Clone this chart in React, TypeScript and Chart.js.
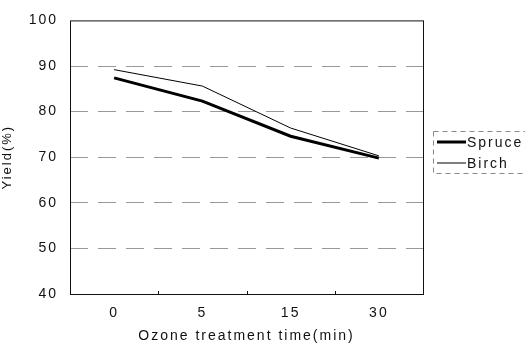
import React, { useEffect, useRef } from "react";
import { Chart, registerables } from "chart.js";

Chart.register(...registerables);

const categories = ["0", "5", "15", "30"];
const spruce = [87.4, 82.3, 74.6, 69.8];
const birch = [89.2, 85.6, 76.4, 70.3];
const yTicks = [40, 50, 60, 70, 80, 90, 100];

const FONT = "'Liberation Sans', Arial, sans-serif";

const spacingPlugin = {
  id: "spacing",
  beforeLayout(chart: any) { chart.ctx.letterSpacing = "2px"; },
  beforeDraw(chart: any) { chart.ctx.letterSpacing = "2px"; },
};

const framePlugin = {
  id: "frame",
  afterDatasetsDraw(chart: any) {
    const { ctx, chartArea: a } = chart;
    ctx.save();
    ctx.strokeStyle = "#111";
    ctx.lineWidth = 1;
    ctx.setLineDash([]);
    ctx.strokeRect(a.left + 0.5, a.top + 0.5, a.right - a.left, a.bottom - a.top);
    const xs = chart.scales.x;
    for (let i = 1; i < categories.length; i++) {
      const x = Math.round((xs.getPixelForTick(i - 1) + xs.getPixelForTick(i)) / 2) + 0.5;
      ctx.beginPath();
      ctx.moveTo(x, a.bottom);
      ctx.lineTo(x, a.bottom - 3);
      ctx.stroke();
    }
    // legend
    const lx = 433, ly = 131, lw = 100, lh = 42;
    ctx.strokeStyle = "#888";
    ctx.setLineDash([5, 4]);
    ctx.strokeRect(lx + 0.5, ly + 0.5, lw, lh);
    ctx.setLineDash([]);
    const items = chart.data.datasets;
    ctx.font = "14px " + FONT;
    ctx.fillStyle = "#111";
    ctx.textBaseline = "middle";
    items.forEach((d: any, i: number) => {
      const y = ly + 11 + i * 21;
      ctx.strokeStyle = "#000";
      ctx.lineWidth = d.borderWidth;
      ctx.beginPath();
      ctx.moveTo(lx + 4, y);
      ctx.lineTo(lx + 33, y);
      ctx.stroke();
      ctx.fillText(d.label, lx + 34, y + 1);
    });
    ctx.restore();
  },
};

export default function App() {
  const ref = useRef<HTMLCanvasElement>(null);
  useEffect(() => {
    const chart = new Chart(ref.current!, {
      type: "line",
      data: {
        labels: categories,
        datasets: [
          { label: "Spruce", data: spruce, borderColor: "#000", borderWidth: 3, pointRadius: 0, tension: 0 },
          { label: "Birch", data: birch, borderColor: "#000", borderWidth: 1, pointRadius: 0, tension: 0 },
        ],
      },
      options: {
        animation: false,
        responsive: false,
        layout: { padding: { top: 13, right: 102, left: 0, bottom: 0 } },
        plugins: { legend: { display: false }, tooltip: { enabled: false } },
        scales: {
          x: {
            offset: true,
            grid: { display: false },
            border: { display: false },
            ticks: { font: { size: 14, family: FONT }, color: "#111", padding: 3 },
            title: {
              display: true,
              text: "Ozone treatment time(min)",
              font: { size: 14, family: FONT },
              color: "#111",
              padding: { top: 4, bottom: 4 },
            },
            afterFit(s: any) { s.height = 55; },
          },
          y: {
            min: 40,
            max: 100,
            afterBuildTicks(s: any) { s.ticks = yTicks.map((v) => ({ value: v })); },
            grid: {
              drawTicks: false,
              color: (c: any) => (c.tick && (c.tick.value === 40 || c.tick.value === 100) ? "rgba(0,0,0,0)" : "#999"),
              lineWidth: 1,
            },
            border: { display: false, dash: [18, 10] },
            ticks: { font: { size: 14, family: FONT }, color: "#111", padding: 12 },
            title: {
              display: true,
              text: "Yield(%)",
              font: { size: 13, family: FONT },
              color: "#111",
              padding: { top: 0, bottom: 4 },
            },
            afterFit(s: any) { s.width = 70; },
          },
        },
      },
      plugins: [spacingPlugin, framePlugin],
    } as any);
    return () => chart.destroy();
  }, []);
  return (
    <div style={{ position: "fixed", left: 0, top: 0, width: 525, height: 349, background: "#fff" }}>
      <canvas ref={ref} width={525} height={349} style={{ width: 525, height: 349 }} />
    </div>
  );
}
